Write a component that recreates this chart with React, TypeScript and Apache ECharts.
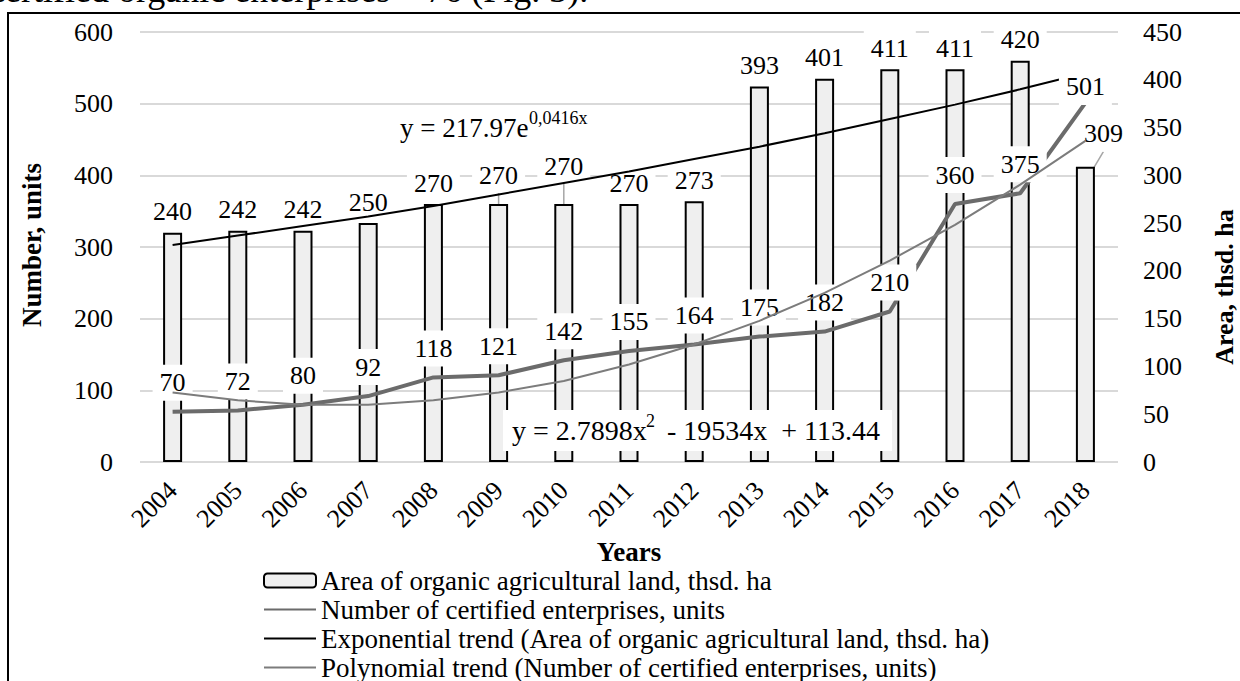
import { useEffect, useRef } from 'react';
import * as echarts from 'echarts';

const FONT = "'Liberation Serif', 'Times New Roman', serif";

const years = ['2004', '2005', '2006', '2007', '2008', '2009', '2010', '2011', '2012', '2013', '2014', '2015', '2016', '2017', '2018'];
const areaValues = [240, 242, 242, 250, 270, 270, 270, 270, 273, 393, 401, 411, 411, 420, 309];
const enterpriseValues = [70, 72, 80, 92, 118, 121, 142, 155, 164, 175, 182, 210, 360, 375, 501];
const expTrendValues = [227, 237, 247, 257, 268, 280, 292, 304, 317, 330, 344, 359, 374, 390, 407];
const polyTrendValues = [97, 86, 80, 80, 86, 97, 113, 136, 164, 197, 236, 281, 331, 387, 448];

const numberAxis = { min: 0, max: 600, interval: 100 };
const areaAxis = { min: 0, max: 450, interval: 50 };

const AREA = 'Area of organic agricultural land, thsd. ha';
const NUM = 'Number of certified enterprises, units';
const EXP = 'Exponential trend (Area of organic agricultural land, thsd. ha)';
const POLY = 'Polynomial trend (Number of certified enterprises, units)';

const expEquation = 'y = 217.97e';
const expExponent = '0,0416x';
const polyEquationA = 'y = 2.7898x';
const polyEquationSup = '2';
const polyEquationB = '- 19534x  + 113.44';
const caption = 'certified organic enterprises – 76 (Fig. 3).';

// label displacement (pixels) for the bar labels that were moved in the original
const barLabelShift: Record<number, [number, number]> = { 5: [0, -8], 6: [0, -17], 14: [18, -12] };
const leaderIdx = [5, 6, 14];

export default function App() {
  const ref = useRef<HTMLDivElement>(null);
  useEffect(() => {
    const chart = echarts.init(ref.current!, null, { renderer: 'svg' });
    const labelBase = {
      fontSize: 26,
      fontFamily: FONT,
      color: '#000',
      backgroundColor: '#fff',
      padding: [5, 7],
    };
    const option: any = {
      animation: false,
      backgroundColor: '#fff',
      textStyle: { fontFamily: FONT, color: '#000' },
      grid: { left: 140, right: 122, top: 32, bottom: 219, containLabel: false },
      legend: {
        orient: 'vertical',
        left: 263,
        top: 567,
        height: 140,
        padding: 0,
        itemWidth: 52,
        itemHeight: 14,
        itemGap: 2,
        align: 'left',
        selectedMode: false,
        textStyle: { fontSize: 27, fontFamily: FONT, color: '#000' },
        data: [
          { name: AREA },
          { name: NUM, itemStyle: { opacity: 0 } },
          { name: EXP, itemStyle: { opacity: 0 } },
          { name: POLY, itemStyle: { opacity: 0 } },
        ],
      },
      xAxis: {
        type: 'category',
        data: years,
        axisLine: { show: false },
        axisTick: { show: false },
        axisLabel: { rotate: 45, fontSize: 26, fontFamily: FONT, color: '#000', margin: 24, interval: 0 },
        name: 'Years',
        nameLocation: 'middle',
        nameGap: 69,
        nameTextStyle: { fontSize: 27, fontWeight: 'bold', fontFamily: FONT, color: '#000' },
      },
      yAxis: [
        {
          type: 'value',
          ...numberAxis,
          axisLine: { show: false },
          axisTick: { show: false },
          axisLabel: { fontSize: 26, fontFamily: FONT, color: '#000', margin: 27 },
          splitLine: { lineStyle: { color: '#d9d9d9', width: 2 } },
        },
        {
          type: 'value',
          position: 'right',
          ...areaAxis,
          axisLine: { show: false },
          axisTick: { show: false },
          axisLabel: { fontSize: 26, fontFamily: FONT, color: '#000', margin: 25 },
          splitLine: { show: false },
        },
      ],
      series: [
        {
          name: AREA,
          type: 'bar',
          yAxisIndex: 1,
          data: areaValues.map((v, i) => (leaderIdx.includes(i) ? { value: v, labelLine: { show: true } } : v)),
          barWidth: 19,
          itemStyle: { color: '#efefef', borderColor: '#000', borderWidth: 2 },
          label: { show: true, position: 'top', distance: 3, ...labelBase },
          labelLine: { show: false, lineStyle: { color: '#a6a6a6', width: 1.5 } },
          labelLayout: (p: any) => {
            const s = barLabelShift[p.dataIndex];
            return s ? { dx: s[0], dy: s[1] } : {};
          },
          z: 1,
        },
        {
          name: EXP,
          type: 'line',
          yAxisIndex: 1,
          data: expTrendValues,
          symbol: 'none',
          lineStyle: { color: '#000', width: 2 },
          itemStyle: { color: '#000' },
          z: 3,
        },
        {
          name: NUM,
          type: 'line',
          yAxisIndex: 0,
          data: enterpriseValues.map((v, i) => (i === 14 ? { value: v, label: { offset: [0, 13] } } : v)),
          symbol: 'circle',
          symbolSize: 0,
          showSymbol: true,
          lineStyle: { color: '#6b6b6b', width: 4 },
          itemStyle: { color: '#6b6b6b' },
          label: { show: true, position: 'top', distance: 11, ...labelBase },
          z: 4,
        },
        {
          name: POLY,
          type: 'line',
          yAxisIndex: 0,
          data: polyTrendValues,
          symbol: 'none',
          lineStyle: { color: '#7c7c7c', width: 2 },
          itemStyle: { color: '#7c7c7c' },
          z: 5,
        },
      ],
      graphic: [
        {
          type: 'polyline',
          z: 20,
          shape: { points: [[8, 681], [8, 13], [1240, 13]] },
          style: { stroke: '#000', lineWidth: 2, fill: null },
        },
        {
          type: 'text',
          z: 20,
          x: -11,
          y: -10,
          style: { text: caption, fontSize: 36, fontFamily: FONT, fill: '#000', verticalAlign: 'middle' },
        },
        {
          type: 'text',
          z: 20,
          x: 32,
          y: 245,
          rotation: Math.PI / 2,
          style: { text: 'Number, units', fontSize: 27, fontWeight: 'bold', fontFamily: FONT, fill: '#000', align: 'center', verticalAlign: 'middle' },
        },
        {
          type: 'text',
          z: 20,
          x: 1224,
          y: 287,
          rotation: Math.PI / 2,
          style: { text: 'Area, thsd. ha', fontSize: 26, fontWeight: 'bold', fontFamily: FONT, fill: '#000', align: 'center', verticalAlign: 'middle' },
        },
        {
          type: 'text',
          z: 20,
          x: 400,
          y: 128,
          style: { text: expEquation, fontSize: 27, fontFamily: FONT, fill: '#000', align: 'left', verticalAlign: 'middle' },
        },
        {
          type: 'text',
          z: 20,
          x: 529,
          y: 118,
          style: { text: expExponent, fontSize: 18, fontFamily: FONT, fill: '#000', align: 'left', verticalAlign: 'middle' },
        },
        {
          type: 'rect',
          z: 20,
          shape: { x: 503, y: 410, width: 389, height: 41 },
          style: { fill: '#fff' },
        },
        {
          type: 'text',
          z: 21,
          x: 512,
          y: 430,
          style: { text: polyEquationA, fontSize: 28, fontFamily: FONT, fill: '#000', align: 'left', verticalAlign: 'middle' },
        },
        {
          type: 'text',
          z: 21,
          x: 646,
          y: 421,
          style: { text: polyEquationSup, fontSize: 18, fontFamily: FONT, fill: '#000', align: 'left', verticalAlign: 'middle' },
        },
        {
          type: 'text',
          z: 21,
          x: 667,
          y: 430,
          style: { text: polyEquationB, fontSize: 28, fontFamily: FONT, fill: '#000', align: 'left', verticalAlign: 'middle' },
        },
      ],
    };
    chart.setOption(option);
    return () => chart.dispose();
  }, []);
  return <div ref={ref} style={{ position: 'absolute', left: 0, top: 0, width: 1240, height: 681 }} />;
}
